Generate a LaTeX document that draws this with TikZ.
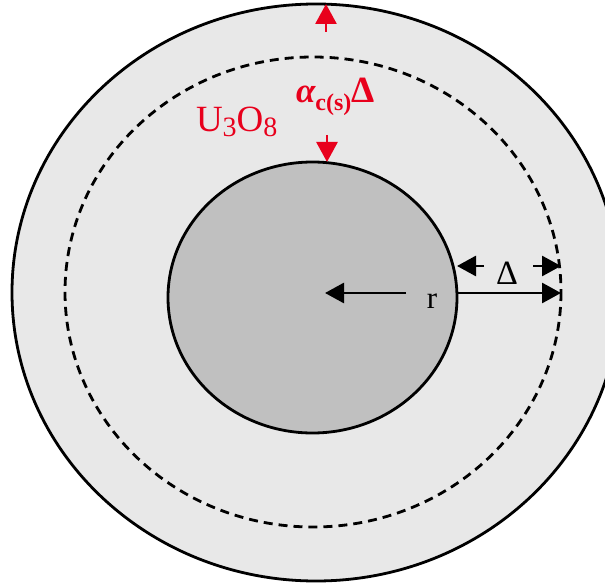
\documentclass[tikz,border=0pt]{standalone}
\usepackage{fontspec}
\setmainfont{Liberation Serif}
\usetikzlibrary{arrows.meta}
\definecolor{outerfill}{RGB}{232,232,232}
\definecolor{innerfill}{RGB}{192,192,192}
\definecolor{oxred}{RGB}{232,0,28}
\begin{document}
\begin{tikzpicture}[x=1pt,y=-1pt,
  ring/.style={line width=2.8pt},
  blk/.style={line width=2.8pt,-{Triangle[length=19pt,width=20pt]}},
  redarr/.style={line width=2.8pt,oxred,-{Triangle[length=20pt,width=21pt]}},
  lbl/.style={inner sep=0pt,outer sep=0pt}]
\useasboundingbox (0,0) rectangle (605,588);
\clip (0,0) rectangle (605,588);
\fill[white] (0,0) rectangle (605,588);
% shapes
\draw[ring,fill=outerfill] (316,292.5) ellipse [x radius=304, y radius=288.5];
\draw[ring,dash pattern=on 9pt off 6pt] (313,292) ellipse [x radius=248, y radius=235];
\draw[ring,fill=innerfill] (312.5,297.5) ellipse [x radius=144.5, y radius=135.5];
% coordinates
\coordinate (rs) at (406,293);
\coordinate (rc) at (325,293);
\coordinate (ie) at (457,293);
\coordinate (de) at (561,293);
\coordinate (dls) at (484,266);
\coordinate (dlt) at (457,266);
\coordinate (drs) at (533,266);
\coordinate (drt) at (561,266);
\coordinate (tus) at (326,32);
\coordinate (tut) at (326,4);
\coordinate (tds) at (327,135);
\coordinate (tdt) at (327,162);
% arrows
\draw[blk] (rs) -- (rc);
\draw[blk] (ie) -- (de);
\draw[blk] (dls) -- (dlt);
\draw[blk] (drs) -- (drt);
\draw[redarr] (tus) -- (tut);
\draw[redarr] (tds) -- (tdt);
% labels
\node[lbl,anchor=base] (r) at (432,308) {\fontsize{31}{31}\selectfont r};
\node[lbl,anchor=base] (delta) at (507,284) {\fontsize{34}{34}\selectfont Δ};
\node[lbl,anchor=base west,text=oxred] (uo) at (196,132)
  {\fontsize{37}{37}\selectfont U\raisebox{-5pt}{\fontsize{28}{28}\selectfont 3}O\raisebox{-5pt}{\fontsize{28}{28}\selectfont 8}};
\node[lbl,anchor=base west,text=oxred] (acs) at (296,103)
  {\fontsize{35}{35}\selectfont\bfseries\itshape α\upshape\raisebox{-8pt}{\fontsize{24}{24}\selectfont c(s)}\fontsize{37}{37}\selectfont Δ};
\end{tikzpicture}
\end{document}
